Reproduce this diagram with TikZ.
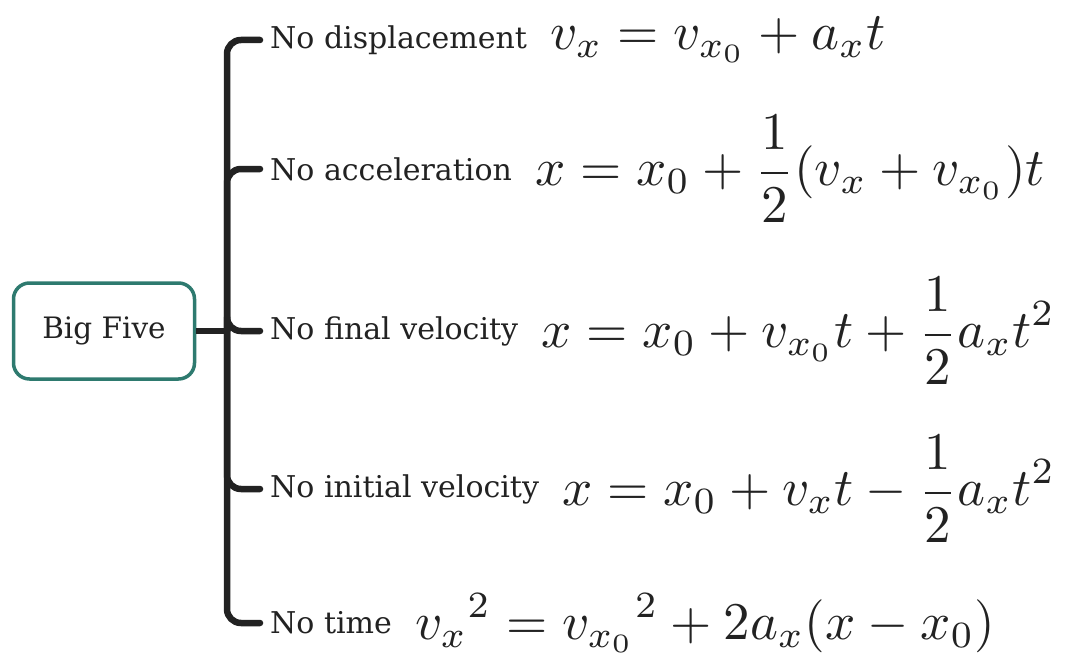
\documentclass[tikz,border=0pt]{standalone}
\usepackage{amsmath}
\usepackage{fontspec}
\setmainfont{DejaVu Serif}
\usetikzlibrary{positioning}
\definecolor{boxteal}{HTML}{2E7A6F}
\definecolor{ink}{HTML}{222222}
\newcommand{\bigeq}[1]{\scalebox{5.3}{$\displaystyle #1$}}

\begin{document}
\begin{tikzpicture}[x=1pt, y=-1pt,
        root/.style={draw=boxteal, line width=3.5pt, rounded corners=16pt, minimum width=181pt,
                     minimum height=96pt, font=\fontsize{29.5}{34}\selectfont, text=ink},
        case/.style={anchor=west, inner xsep=0pt, inner ysep=2pt, font=\fontsize{30}{35}\selectfont, text=ink},
        eqn/.style={inner sep=0pt, text=ink, right=23pt of #1},
        branch/.style={ink, line width=6.5pt, line cap=round, rounded corners=14pt}
    ]
        \useasboundingbox (0,0) rectangle (1080,669);

        \node[root] (big) at (104,331) {Big Five};
        \coordinate (hub) at (227,331);

        \node[case] (nodisp) at (270,40) {No displacement};
        \node[case] (noacc) at (270,169) {No acceleration};
        \node[case] (nofinal) at (270,331) {No final velocity};
        \node[case] (noinit) at (270,489) {No initial velocity};
        \node[case] (notime) at (270,623) {No time};

        \node[eqn=nodisp] (eqdisp) {\bigeq{v_x = v_{x_0} + a_x t}};
        \node[eqn=noacc] (eqacc) {\bigeq{x = x_0 + \frac{1}{2}(v_x + v_{x_0})t}};
        \node[eqn=nofinal] (eqfinal) {\bigeq{x = x_0 + v_{x_0}t + \frac{1}{2}a_x t^2}};
        \node[eqn=noinit] (eqinit) {\bigeq{x = x_0 + v_x t - \frac{1}{2}a_x t^2}};
        \node[eqn=notime] (eqtime) {\bigeq{{v_x}^2 = {v_{x_0}}^2 + 2a_x(x - x_0)}};

        % bracket from the root to each case
        \draw[branch, line cap=butt] (big.east) -- (hub);
        \foreach \c in {nodisp,noacc,nofinal,noinit,notime}
            \draw[branch] (hub) |- ([xshift=-10pt]\c.west);
    \end{tikzpicture}
\end{document}
